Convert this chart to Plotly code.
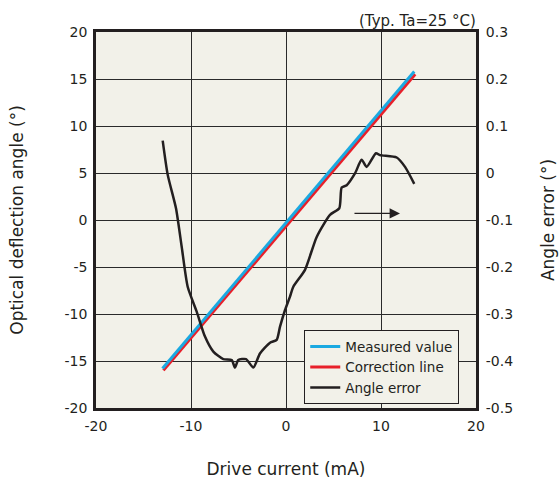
import plotly.graph_objects as go

# Data
measured_x = [-13.0, 13.5]
measured_y = [-15.8, 15.8]
correction_x = [-12.9, 13.6]
correction_y = [-16.0, 15.5]

err_x = [-12.98, -12.45, -11.58, -10.98, -10.35, -9.4, -8.53, -7.65, -6.6, -5.72, -5.37, -5.02,
         -4.21, -3.44, -2.74, -1.68, -0.98, -0.63, -0.11, 0.42, 0.77, 2.0, 3.23, 4.63, 5.61, 5.86,
         6.39, 7.26, 7.96, 8.49, 9.47, 9.9, 11.65, 12.53, 13.5]
err_y = [0.069, -0.004, -0.075, -0.157, -0.242, -0.295, -0.348, -0.380, -0.396, -0.398, -0.414, -0.398,
         -0.396, -0.414, -0.384, -0.361, -0.355, -0.327, -0.292, -0.263, -0.242, -0.206, -0.136, -0.089, -0.075, -0.031,
         -0.026, -0.001, 0.028, 0.013, 0.042, 0.038, 0.033, 0.013, -0.023]

x_ticks = [-20, -10, 0, 10, 20]
y_ticks = [-20, -15, -10, -5, 0, 5, 10, 15, 20]
y2_ticks = [-0.5, -0.4, -0.3, -0.2, -0.1, 0, 0.1, 0.2, 0.3]
y2_labels = ["-0.5", "-0.4", "-0.3", "-0.2", "-0.1", "0", "0.1", "0.2", "0.3"]

FONT = "DejaVu Sans"
BG = "#F2F1E9"
GRID = "#2a2a2a"

fig = go.Figure()
fig.add_trace(go.Scatter(x=correction_x, y=correction_y, mode="lines", name="Correction line",
                         line=dict(color="#E8202A", width=3), showlegend=False))
fig.add_trace(go.Scatter(x=measured_x, y=measured_y, mode="lines", name="Measured value",
                         line=dict(color="#1BA9E1", width=3)))
fig.add_trace(go.Scatter(x=[None], y=[None], mode="lines", name="Correction line",
                         line=dict(color="#E8202A", width=3)))
fig.add_trace(go.Scatter(x=err_x, y=err_y, mode="lines", name="Angle error", yaxis="y2",
                         line=dict(color="#231F20", width=2.5, shape="spline", smoothing=0.6)))

fig.add_annotation(x=12.0, y=0.7, ax=7.05, ay=0.7, xref="x", yref="y", axref="x", ayref="y",
                   showarrow=True, arrowhead=2, arrowsize=1.6, arrowwidth=1.3, arrowcolor="#231F20", text="")

fig.add_annotation(text="(Typ. Ta=25 °C)", x=1.005, y=1.0, xref="paper", yref="paper",
                   xanchor="right", yanchor="bottom", yshift=0, showarrow=False,
                   font=dict(family=FONT, size=15, color="#231F20"))

fig.update_layout(
    width=559, height=479,
    margin=dict(l=96, r=83, t=32, b=71, autoexpand=False),
    paper_bgcolor="white", plot_bgcolor=BG,
    font=dict(family=FONT, size=14, color="#231F20"),
    xaxis=dict(range=[-20, 20], tickvals=x_ticks, ticktext=[str(v) for v in x_ticks],
               showgrid=True, gridcolor=GRID, gridwidth=1.2, zeroline=False,
               showline=True, linecolor="#231F20", linewidth=2.5, mirror=True,
               ticks="outside", ticklen=3, tickcolor="rgba(0,0,0,0)", automargin=False,
               title=dict(text="Drive current (mA)", standoff=36)),
    yaxis=dict(range=[-20, 20], tickvals=y_ticks, ticktext=[str(v) for v in y_ticks],
               showgrid=True, gridcolor=GRID, gridwidth=1.2, zeroline=False,
               showline=True, linecolor="#231F20", linewidth=2.5, mirror=True,
               ticks="outside", ticklen=3, tickcolor="rgba(0,0,0,0)", automargin=False,
               title=dict(text="Optical deflection angle (°)", standoff=37)),
    yaxis2=dict(range=[-0.5, 0.3], tickvals=y2_ticks, ticktext=y2_labels, overlaying="y",
                side="right", showgrid=False, zeroline=False, automargin=False,
                ticks="outside", ticklen=6, tickcolor="rgba(0,0,0,0)",
                title=dict(text="Angle error (°)", standoff=29)),
    legend=dict(x=0.548, y=0.207, xanchor="left", yanchor="top", bgcolor=BG,
                bordercolor="#231F20", borderwidth=1, font=dict(size=13.5),
                tracegroupgap=0, itemwidth=30),
)

fig.write_html("out.html", config={"displayModeBar": False},
               post_script="document.body.style.margin='0';")
